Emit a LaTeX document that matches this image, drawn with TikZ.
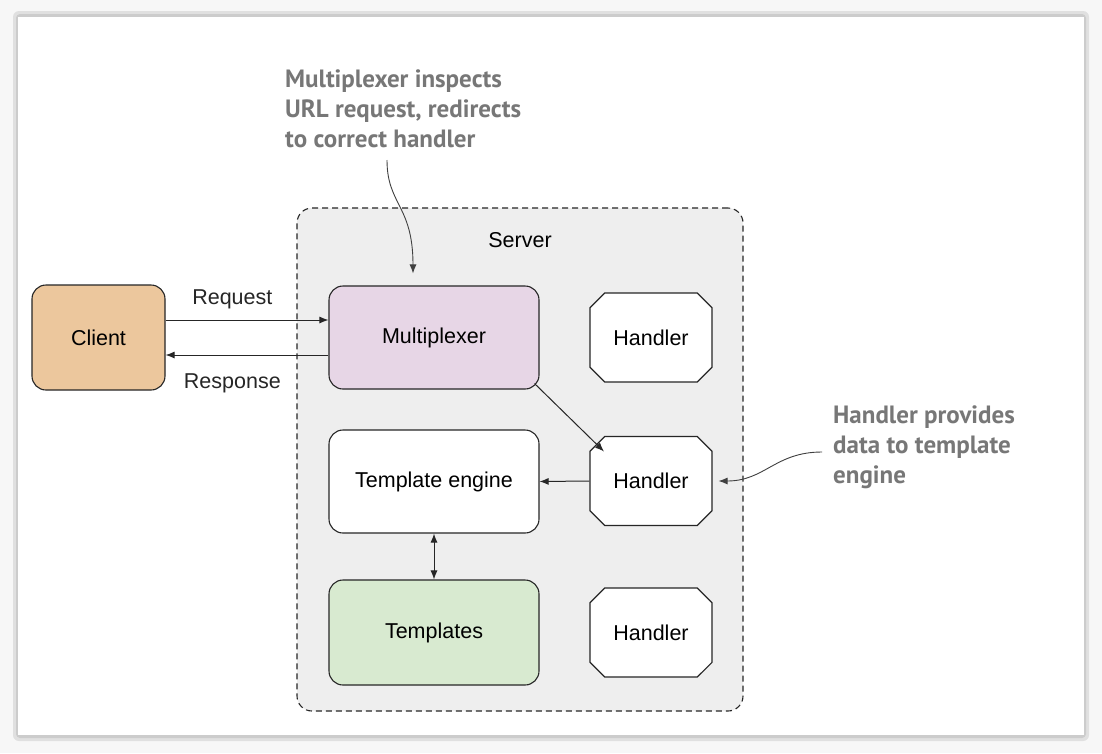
\documentclass[tikz,border=0pt]{standalone}
\usepackage{fontspec}
\setmainfont{Liberation Sans}
\newfontfamily\notefont{PT Sans}
\usepackage{tikz}
\usetikzlibrary{shapes,arrows,arrows.meta}
\usetikzlibrary{positioning,fit}
\definecolor{clientfill}{RGB}{236,199,157}
\definecolor{muxfill}{RGB}{231,214,230}
\definecolor{tplfill}{RGB}{216,234,208}
\definecolor{serverfill}{RGB}{238,238,238}
\definecolor{notegray}{RGB}{119,119,119}
\tikzstyle{block} =
  [rectangle, draw=black!85, line width=1.1pt, text centered, rounded corners=14pt,
   minimum width=210pt, minimum height=103pt, font=\fontsize{21.5}{26}\selectfont]
\tikzstyle{handlerbox} =
  [chamfered rectangle, chamfered rectangle xsep=14pt, draw=black!85, line width=1.1pt,
   fill=white, minimum width=122pt, minimum height=89pt, font=\fontsize{21.5}{26}\selectfont]
\tikzstyle{serverbox} =
  [rectangle, draw=black!85, dash pattern=on 6pt off 4pt, line width=1.1pt,
   rounded corners=15pt, fill=serverfill]
\tikzstyle{label} = [font=\fontsize{21.5}{26}\selectfont, inner sep=0pt]
\tikzstyle{note} =
  [anchor=north west, align=left, inner sep=0pt, text=notegray,
   font=\notefont\bfseries\fontsize{25}{30}\selectfont]
\tikzstyle{arrow}=[draw,-{Latex[length=9pt,width=7pt]},line width=1pt,black!85]
\tikzstyle{notearrow}=[draw,-{Latex[length=9pt,width=7pt]},line width=0.9pt,black!75]

\begin{document}
\begin{tikzpicture}[x=1pt, y=-1pt, node distance = 144pt]
  % page and card
  \useasboundingbox (0,0) rectangle (1102,753);
  \fill [black!3] (0,0) rectangle (1102,753);
  \fill [black!12, rounded corners=6pt] (13,11) rectangle (1089,741);
  \fill [black!20, rounded corners=4pt] (16,14) rectangle (1086,738);
  \fill [white] (18,17) rectangle (1084,735);

  % server frame
  \node [serverbox, minimum width=446pt, minimum height=503pt] (server) at (520,459.5) {};
  \node [label] (srv) at (520,240) {Server};

  \node [block, fill=clientfill, minimum width=133pt, minimum height=105pt] (client) at (98.5,337.5) {Client};
  \node [block, fill=muxfill] (mux) at (434,337.5) {Multiplexer};
  \node [block, fill=white, below of=mux] (engine) {Template engine};
  \node [block, fill=tplfill, below of=engine, node distance=151pt, minimum height=105pt] (tpl) {Templates};

  \node [handlerbox, right of=mux, node distance=217pt] (h1) {Handler};
  \node [handlerbox, below of=h1, node distance=143.5pt] (h2) {Handler};
  \node [handlerbox, below of=h2, node distance=151.5pt] (h3) {Handler};

  \draw [arrow] ([yshift=17.5pt]client.east) -- node [label, pos=0.41, above=11pt] (req) {Request} ([yshift=17.5pt]mux.west);
  \draw [arrow] ([yshift=-17.5pt]mux.west) -- node [label, pos=0.59, below=18pt] (resp) {Response} ([yshift=-17.5pt]client.east);
  \draw [arrow] ([shift={(-5pt,6pt)}]mux.south east) -- ([shift={(7pt,-8pt)}]h2.north west);
  \draw [arrow] (h2.west) -- (engine.east);
  \draw [draw,{Latex[length=9pt,width=7pt]}-{Latex[length=9pt,width=7pt]},line width=1pt,black!85] (engine.south) -- (tpl.north);

  % notes
  \node [note] (muxnote) at (285,70) {Multiplexer inspects\\URL request, redirects\\to correct handler};
  \node [note] (hnote) at (833,406) {Handler provides\\data to template\\engine};
  \coordinate (muxtail) at (387,160);
  \coordinate (htail) at (822,452);
  \draw [notearrow] (muxtail) .. controls (387,205) and (413,205) .. ([xshift=-21pt,yshift=12pt]mux.north);
  \draw [notearrow] (htail) .. controls (775,452) and (765,481) .. ([xshift=6pt]h2.east);
\end{tikzpicture}
\end{document}
